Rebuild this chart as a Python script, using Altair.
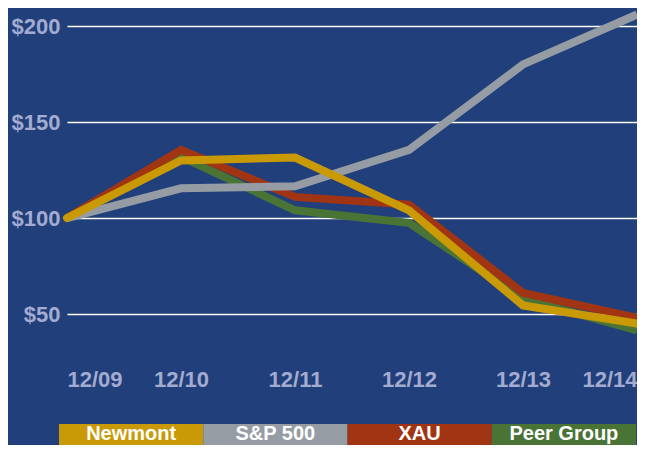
import altair as alt
import pandas as pd

periods = ["12/09", "12/10", "12/11", "12/12", "12/13", "12/14"]
newmont = [100, 130, 131.5, 104, 54.5, 45]
sp500 = [100, 115.5, 116.5, 135.5, 180, 206]
xau = [100, 135.5, 111, 107, 61, 48]
peer = [100, 132, 104, 97.5, 58, 41.5]

series_names = ["Newmont", "S&P 500", "XAU", "Peer Group"]
series_colors = ["#c99a06", "#959ca4", "#a13513", "#4a7336"]
draw_order = ["Peer Group", "XAU", "S&P 500", "Newmont"]

BG = "#213f7a"
LABEL = "#a3abd0"
FONT = "Liberation Sans"

values = {"Newmont": newmont, "S&P 500": sp500, "XAU": xau, "Peer Group": peer}
rows = []
for s in series_names:
    for p, v in zip(periods, values[s]):
        rows.append({"series": s, "period": p, "value": v})
df = pd.DataFrame(rows)

color_scale = alt.Scale(domain=series_names, range=series_colors)

base = alt.Chart(df).encode(
    x=alt.X("period:O", sort=periods,
            scale=alt.Scale(type="point", padding=0),
            axis=alt.Axis(title=None, labelAngle=0, labelFlush=True, ticks=False, domain=False,
                          grid=False, labelColor=LABEL, labelFont=FONT, labelFontSize=22,
                          labelFontWeight="bold", labelPadding=7)),
    y=alt.Y("value:Q", scale=alt.Scale(domain=[25, 209.4], nice=False, zero=False),
            axis=alt.Axis(title=None, values=[50, 100, 150, 200], labelExpr="'$' + datum.value",
                          ticks=False, domain=False, grid=True, gridColor="#ffffff", gridWidth=1.5,
                          labelColor=LABEL, labelFont=FONT, labelFontSize=22,
                          labelFontWeight="bold", labelPadding=7)),
    color=alt.Color("series:N", scale=color_scale, legend=None),
)

layers = []
for s in draw_order:
    layers.append(
        base.transform_filter(alt.datum.series == s).mark_line(
            strokeWidth=8, strokeCap="round" if s == "Newmont" else "butt")
    )
lines = alt.layer(*layers)

# legend strip below the plot, drawn through its own band scales
leg_df = pd.DataFrame({"series": series_names, "row": ["legend"] * len(series_names)})
leg_x = alt.X("series:N", sort=series_names,
              scale=alt.Scale(range=[-8, 569], paddingInner=0, paddingOuter=0), axis=None)
leg_y = alt.Y("row:N", scale=alt.Scale(range=[416, 452], paddingInner=0, paddingOuter=0), axis=None)
leg_rect = alt.Chart(leg_df).mark_rect().encode(
    x=leg_x, y=leg_y, color=alt.Color("series:N", scale=color_scale, legend=None))
leg_text = alt.Chart(leg_df).mark_text(
    color="white", font=FONT, fontSize=20, fontWeight="bold", baseline="alphabetic", dy=-2
).encode(x=leg_x, y=leg_y, text="series:N")
legend = alt.layer(leg_rect, leg_text)

chart = alt.layer(lines, legend).resolve_scale(x="independent", y="independent").properties(
    width=570, height=354,
    background=BG,
    autosize=alt.AutoSizeParams(type="none"),
    padding={"left": 59, "top": 0, "right": 0, "bottom": 83},
).configure_view(stroke=None)

chart.save("out.html", embed_options={"renderer": "svg", "actions": False})
